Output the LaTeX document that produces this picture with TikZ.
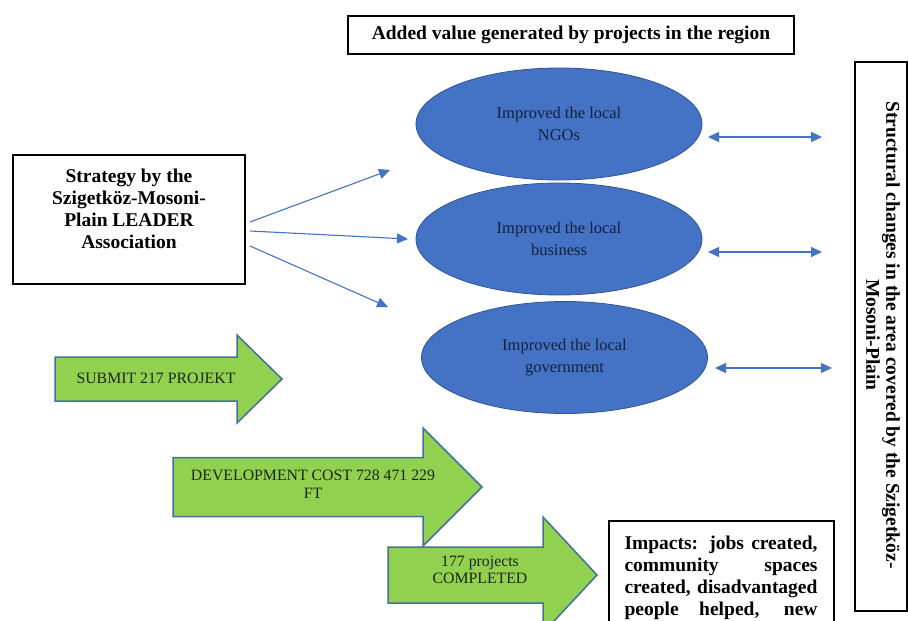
\documentclass[tikz,border=0pt]{standalone}
\usepackage{fontspec}
\setmainfont{Liberation Serif}
\usetikzlibrary{shapes.geometric,arrows.meta}

\definecolor{ovalblue}{HTML}{4472C4}
\definecolor{ovaledge}{HTML}{2F5597}
\definecolor{ovaltext}{HTML}{14213D}
\definecolor{arrowgreen}{HTML}{92D050}
\definecolor{arrowedge}{HTML}{41719C}
\definecolor{arrowtext}{HTML}{1C2614}

% fat green arrow: left x, head x, tip x, centre y, body half, head half
\newcommand{\greenarrow}[6]{%
  \draw[garrow] ({#1},{#4-#5}) -- ({#2},{#4-#5}) -- ({#2},{#4-#6}) -- ({#3},{#4})
    -- ({#2},{#4+#6}) -- ({#2},{#4+#5}) -- ({#1},{#4+#5}) -- cycle;}

\begin{document}
\begin{tikzpicture}[x=1pt,y=-1pt]

\tikzset{
  box/.style={draw, line width=2pt, inner sep=0pt},
  bigbold/.style={font=\fontsize{19.5}{22}\selectfont\bfseries},
  oval/.style={ellipse, draw=ovaledge, line width=0.8pt, fill=ovalblue, minimum width=286pt, minimum height=112pt, inner sep=0pt, align=center, text=ovaltext, font=\fontsize{16.5}{22}\selectfont},
  flow/.style={ovalblue, line width=1.1pt, -{Triangle[length=11pt,width=10pt]}},
  link/.style={ovalblue, line width=1.1pt, {Triangle[length=11pt,width=10pt]}-{Triangle[length=11pt,width=10pt]}},
  garrow/.style={fill=arrowgreen, draw=arrowedge, line width=1.5pt, line join=miter},
  gtext/.style={align=center, text=arrowtext, inner sep=0pt, font=\fontsize{15.8}{17.5}\selectfont},
}

\useasboundingbox (0,0) rectangle (908,621);
\clip (0,0) rectangle (908,621);

\node[box,name=title,minimum width=446pt,minimum height=38pt] at (571,35) {\fontsize{19.5}{22}\selectfont\bfseries Added value generated by projects in the region};

\node[box,name=strat,line width=2.5pt,minimum width=232pt,minimum height=129pt] at (129,219.5) {};
\node[bigbold,name=strattxt,align=center,anchor=north,inner sep=0pt] at (129,169) {Strategy by the\\Szigetköz-Mosoni-\\Plain LEADER\\Association};

\node[oval,name=ngo] at (559,124) {Improved the local\\NGOs};
\node[oval,name=biz] at (559,239) {Improved the local\\business};
\node[oval,name=gov] at (564.5,357.5) {Improved the local\\government};

\coordinate (s1) at (250,222);
\coordinate (s2) at (250,231);
\coordinate (s3) at (250,246);
\coordinate (t1) at (390,170);
\coordinate (t2) at (408,239);
\coordinate (t3) at (388,307);
\draw[flow] (s1) -- (t1);
\draw[flow] (s2) -- (t2);
\draw[flow] (s3) -- (t3);

\coordinate (l1a) at (708,137);
\coordinate (l1b) at (822,137);
\coordinate (l2a) at (708,252);
\coordinate (l2b) at (822,252);
\coordinate (l3a) at (715,368);
\coordinate (l3b) at (832,368);
\draw[link] (l1a) -- (l1b);
\draw[link] (l2a) -- (l2b);
\draw[link] (l3a) -- (l3b);

\node[box,name=struct,line width=1.8pt,minimum width=52pt,minimum height=549pt] at (881,336.5) {};
\node[name=structtxt,rotate=-90,align=center,inner sep=0pt,font=\fontsize{19.5}{20}\selectfont\bfseries] at (883,335) {Structural changes in the area covered by the Szigetköz-\\Mosoni-Plain};

\greenarrow{55}{237}{282}{379}{22}{44}
\node[gtext,name=submit] at (156,378) {SUBMIT 217 PROJEKT};
\greenarrow{173}{423}{482}{487}{29.5}{59}
\node[gtext,name=cost] at (313,484) {DEVELOPMENT COST 728 471 229\\FT};
\greenarrow{388}{543}{597}{575}{28}{58}
\node[gtext,name=done] at (480,570) {177 projects\\COMPLETED};

\node[box,name=impact,anchor=north west,minimum width=225pt,minimum height=150pt] at (608,520) {};
\node[bigbold,name=impacttxt,anchor=north,align=left,inner sep=0pt] at (721,536) {%
  \makebox[193pt][s]{Impacts: jobs created,}\\
  \makebox[193pt][s]{community spaces}\\
  \makebox[193pt][s]{created, disadvantaged}\\
  \makebox[193pt][s]{people helped, new}};

\end{tikzpicture}
\end{document}
